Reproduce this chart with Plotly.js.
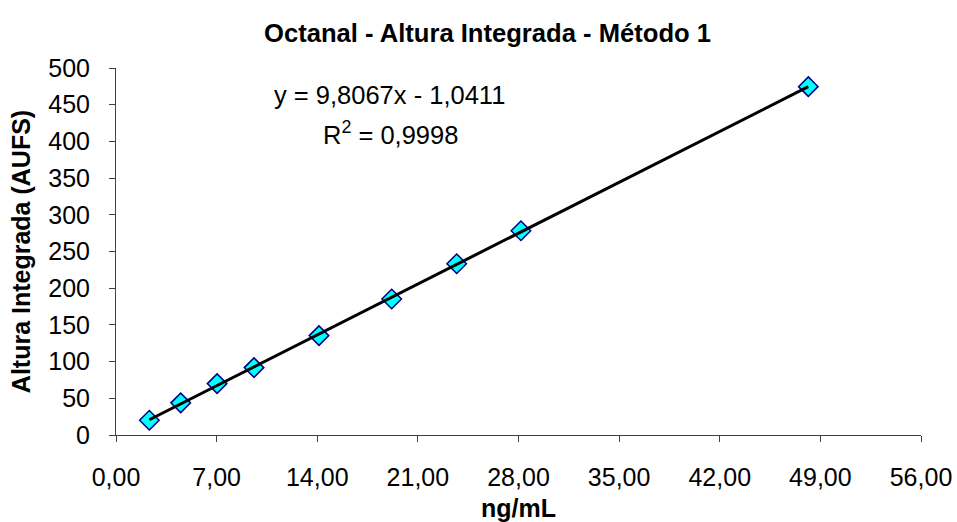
<!DOCTYPE html>
<html>
<head>
<meta charset="utf-8">
<script src="https://cdn.plot.ly/plotly-3.0.1.min.js"></script>
<style>html,body{margin:0;padding:0;background:#fff;}#chart{width:957px;height:522px;}</style>
</head>
<body>
<div id="chart"></div>
<script>
// Data
const concentration = [2.32, 4.50, 7.03, 9.60, 14.12, 19.18, 23.70, 28.17, 48.16]; // ng/mL
const alturaIntegrada = [20.1, 43.8, 70.0, 91.8, 135.4, 185.3, 233.3, 278.2, 474.6]; // AUFS
const xTicks = [0, 7, 14, 21, 28, 35, 42, 49, 56];
const yTicks = [0, 50, 100, 150, 200, 250, 300, 350, 400, 450, 500];
const chartTitle = "Octanal - Altura Integrada - Método 1";
const xTitle = "ng/mL";
const yTitle = "Altura Integrada (AUFS)";
const eqText = "y = 9,8067x - 1,0411";
const r2Text = "R<sup>2</sup> = 0,9998";

// Linear least-squares trendline from the data
const n = concentration.length;
const mx = concentration.reduce((a, b) => a + b, 0) / n;
const my = alturaIntegrada.reduce((a, b) => a + b, 0) / n;
let sxy = 0, sxx = 0;
for (let i = 0; i < n; i++) {
  sxy += (concentration[i] - mx) * (alturaIntegrada[i] - my);
  sxx += (concentration[i] - mx) ** 2;
}
const slope = sxy / sxx;
const intercept = my - slope * mx;
const xMin = Math.min(...concentration), xMax = Math.max(...concentration);
const trendX = [xMin, xMax];
const trendY = trendX.map(v => slope * v + intercept);

const FONT = "Liberation Sans, Arial, sans-serif";

const data = [
  {
    x: concentration, y: alturaIntegrada, type: "scatter", mode: "markers",
    marker: {symbol: "diamond", size: 15, color: "#00FFFF", line: {color: "#000080", width: 1.5}},
    hoverinfo: "x+y", showlegend: false
  },
  {
    x: trendX, y: trendY, type: "scatter", mode: "lines",
    line: {color: "#000000", width: 3}, hoverinfo: "skip", showlegend: false
  }
];

const layout = {
  width: 957, height: 522,
  margin: {l: 116, r: 36, t: 68, b: 86.5, pad: 0},
  paper_bgcolor: "#ffffff", plot_bgcolor: "#ffffff",
  separators: ",.",
  font: {family: FONT, color: "#000000", size: 24},
  title: {
    text: "<b>" + chartTitle + "</b>",
    font: {family: FONT, size: 25.6, color: "#000000"},
    x: 487.5 / 957, xref: "container", xanchor: "center",
    y: 1 - 33 / 522, yref: "container", yanchor: "middle"
  },
  xaxis: {
    range: [0, 56], tickvals: xTicks, tickformat: ".2f",
    showgrid: false, zeroline: false,
    showline: true, linecolor: "#404040", linewidth: 1,
    ticks: "outside", ticklen: 6, tickcolor: "#404040", tickwidth: 1,
    ticklabelstandoff: 14,
    tickfont: {family: FONT, size: 25, color: "#000000"},
    title: {text: "<b>" + xTitle + "</b>", font: {family: FONT, size: 25, color: "#000000"}, standoff: 10},
    fixedrange: true
  },
  yaxis: {
    range: [0, 500], tickvals: yTicks,
    showgrid: false, zeroline: false,
    showline: true, linecolor: "#404040", linewidth: 1,
    ticks: "outside", ticklen: 6, tickcolor: "#404040", tickwidth: 1,
    ticklabelstandoff: 14,
    tickfont: {family: FONT, size: 25, color: "#000000"},
    title: {text: "<b>" + yTitle + "</b>", font: {family: FONT, size: 25, color: "#000000"}, standoff: 10},
    fixedrange: true
  },
  annotations: [
    {text: eqText, xref: "paper", yref: "paper", x: (389 - 116) / 805, y: (435.5 - 95) / 367.5,
     xanchor: "center", yanchor: "middle", showarrow: false, font: {family: FONT, size: 25.5, color: "#000000"}},
    {text: r2Text, xref: "paper", yref: "paper", x: (390 - 116) / 805, y: (435.5 - 133) / 367.5,
     xanchor: "center", yanchor: "middle", showarrow: false, font: {family: FONT, size: 25.5, color: "#000000"}}
  ]
};

Plotly.newPlot("chart", data, layout, {displayModeBar: false, staticPlot: false});
</script>
</body>
</html>
